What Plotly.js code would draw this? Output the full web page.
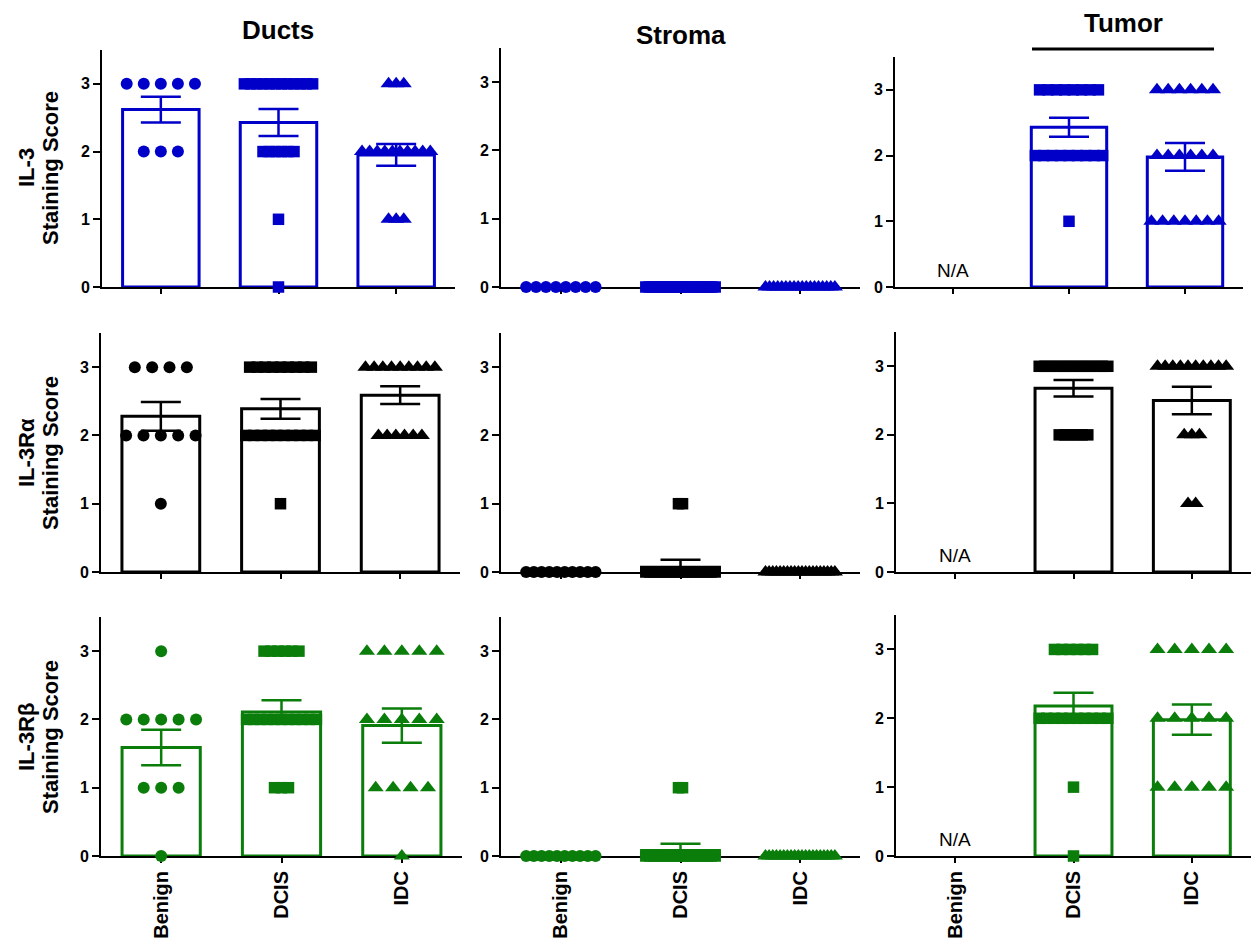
<!DOCTYPE html>
<html><head><meta charset="utf-8">
<script src="https://cdn.plot.ly/plotly-3.0.1.min.js"></script>
<style>html,body{margin:0;padding:0;background:#fff}#chart{width:1251px;height:945px}</style>
</head><body><div id="chart"></div>
<script>
// ---------- categories / labels ----------
const groups = ['Benign', 'DCIS', 'IDC'];
const regions = ['Ducts', 'Stroma', 'Tumor'];
const markerNames = ['IL-3', 'IL-3Rα', 'IL-3Rβ'];
const yTickVals = [0, 1, 2, 3];

// ---------- IL-3 (individual staining scores per group) ----------
const il3DuctsScores = [
  [3,3,3,3,3,2,2,2],
  [3,3,3,3,3,3,3,3,3,3,3,3,2,2,2,2,2,2,1,0],
  [3,3,3,2,2,2,2,2,2,2,2,2,2,1,1,1]
];
const il3StromaScores = [
  [0,0,0,0,0,0,0,0],
  [0,0,0,0,0,0,0,0,0,0,0,0,0,0,0,0,0,0,0,0,0,0],
  [0,0,0,0,0,0,0,0,0,0,0,0,0,0,0,0,0,0]
];
const il3TumorScores = [
  [],
  [3,3,3,3,3,3,3,3,2,2,2,2,2,2,2,2,2,1],
  [3,3,3,3,3,3,2,2,2,2,2,2,1,1,1,1,1,1,1]
];
const il3DuctsMean = [2.62, 2.43, 1.95];
const il3DuctsSem = [0.19, 0.20, 0.16];
const il3StromaMean = [0, 0, 0];
const il3StromaSem = [0, 0, 0];
const il3TumorMean = [null, 2.43, 1.98];
const il3TumorSem = [null, 0.145, 0.21];

// ---------- IL-3Rα ----------
const raDuctsScores = [
  [3,3,3,3,2,2,2,2,2,1],
  [3,3,3,3,3,3,3,3,3,2,2,2,2,2,2,2,2,2,2,1],
  [3,3,3,3,3,3,3,3,3,2,2,2,2,2,2]
];
const raStromaScores = [
  [0,0,0,0,0,0,0,0,0,0],
  [0,0,0,0,0,0,0,0,0,0,0,0,0,0,0,0,0,0,1,1],
  [0,0,0,0,0,0,0,0,0,0,0,0,0,0,0,0,0,0,0,0]
];
const raTumorScores = [
  [],
  [3,3,3,3,3,3,3,3,3,3,3,3,3,2,2,2,2,2,2],
  [3,3,3,3,3,3,3,3,3,3,2,2,2,1,1]
];
const raDuctsMean = [2.28, 2.39, 2.59];
const raDuctsSem = [0.21, 0.145, 0.13];
const raStromaMean = [0, 0.07, 0];
const raStromaSem = [0, 0.11, 0];
const raTumorMean = [null, 2.68, 2.50];
const raTumorSem = [null, 0.12, 0.20];

// ---------- IL-3Rβ ----------
const rbDuctsScores = [
  [3,2,2,2,2,2,1,1,1,0],
  [3,3,3,3,3,3,2,2,2,2,2,2,2,2,2,2,2,1,1,1],
  [3,3,3,3,3,2,2,2,2,2,1,1,1,1,0]
];
const rbStromaScores = [
  [0,0,0,0,0,0,0,0,0,0],
  [0,0,0,0,0,0,0,0,0,0,0,0,0,0,0,0,0,0,1,1],
  [0,0,0,0,0,0,0,0,0,0,0,0,0,0,0,0,0,0,0,0]
];
const rbTumorScores = [
  [],
  [3,3,3,3,3,3,2,2,2,2,2,2,2,2,2,2,1,0],
  [3,3,3,3,3,2,2,2,2,2,1,1,1,1,1]
];
const rbDuctsMean = [1.59, 2.11, 1.91];
const rbDuctsSem = [0.26, 0.17, 0.25];
const rbStromaMean = [0, 0.08, 0];
const rbStromaSem = [0, 0.10, 0];
const rbTumorMean = [null, 2.18, 1.98];
const rbTumorSem = [null, 0.19, 0.22];

// ---------- assembly ----------
const allScores = [
  [il3DuctsScores, il3StromaScores, il3TumorScores],
  [raDuctsScores, raStromaScores, raTumorScores],
  [rbDuctsScores, rbStromaScores, rbTumorScores]
];
const allMeans = [
  [il3DuctsMean, il3StromaMean, il3TumorMean],
  [raDuctsMean, raStromaMean, raTumorMean],
  [rbDuctsMean, rbStromaMean, rbTumorMean]
];
const allSems = [
  [il3DuctsSem, il3StromaSem, il3TumorSem],
  [raDuctsSem, raStromaSem, raTumorSem],
  [rbDuctsSem, rbStromaSem, rbTumorSem]
];

const W = 1251, H = 945;
const colors = ['#0000c8', '#000000', '#0a7d0a'];
const symbols = ['circle', 'square', 'triangle-up'];
const symSizes = [12, 11.5, 14];
const FONT = 'Liberation Sans, Arial, Helvetica, sans-serif';

// pixel geometry of each panel
const xDomPx = [
  [[102, 455], [501, 860], [895, 1243]],
  [[101, 460], [501, 860], [896, 1251]],
  [[101, 462], [501, 860], [896, 1251]]
];
const yTopPx = [[50, 48, 57], [333, 333, 332], [617, 617, 615]];
const yBotPx = [287, 572, 856];

// horizontal spreading of equal scores (scatter-dot layout)
function spread(vals, center) {
  const counts = {};
  vals.forEach(v => { counts[v] = (counts[v] || 0) + 1; });
  const maxC = Math.max(1, ...Object.values(counts));
  const step = maxC > 1 ? Math.min(0.15, 0.58 / (maxC - 1)) : 0;
  const seen = {};
  return vals.map(v => {
    const j = seen[v] = (seen[v] === undefined ? 0 : seen[v] + 1);
    return center + (j - (counts[v] - 1) / 2) * step;
  });
}

const traces = [];
const layout = {
  width: W, height: H,
  margin: {l: 0, r: 0, t: 0, b: 0},
  paper_bgcolor: '#ffffff', plot_bgcolor: 'rgba(0,0,0,0)',
  showlegend: false,
  font: {family: FONT, color: '#000'},
  annotations: [], shapes: []
};

for (let r = 0; r < 3; r++) {
  for (let c = 0; c < 3; c++) {
    const k = r * 3 + c + 1;
    const xa = k === 1 ? 'x' : 'x' + k;
    const ya = k === 1 ? 'y' : 'y' + k;
    const col = colors[r];
    traces.push({
      type: 'bar', x: [0, 1, 2], y: allMeans[r][c], width: 0.65,
      xaxis: xa, yaxis: ya, hoverinfo: 'skip',
      marker: {color: 'rgba(255,255,255,0)', line: {color: col, width: 3}},
      error_y: {type: 'data', array: allSems[r][c], visible: true, color: col, thickness: 2.5, width: 20}
    });
    for (let g = 0; g < 3; g++) {
      const vals = allScores[r][c][g];
      if (!vals.length) continue;
      traces.push({
        type: 'scatter', mode: 'markers', x: spread(vals, g), y: vals,
        xaxis: xa, yaxis: ya, cliponaxis: false, hoverinfo: 'skip',
        marker: {symbol: symbols[g], size: symSizes[g], color: col, line: {width: 0}}
      });
    }
    const xd = xDomPx[r][c];
    layout['xaxis' + (k === 1 ? '' : k)] = {
      domain: [xd[0] / W, Math.min(1, xd[1] / W)], anchor: ya,
      range: [-0.5, 2.5], showgrid: false, zeroline: false,
      showline: true, linecolor: '#000', linewidth: 2, layer: 'below traces',
      ticks: 'outside', ticklen: 5, tickwidth: 2, tickcolor: '#000',
      tickvals: [0, 1, 2], ticktext: groups,
      showticklabels: r === 2, tickangle: -90,
      tickfont: {family: FONT, size: 20, weight: 'bold', color: '#000'},
      fixedrange: true
    };
    layout['yaxis' + (k === 1 ? '' : k)] = {
      domain: [1 - yBotPx[r] / H, 1 - yTopPx[r][c] / H], anchor: xa,
      range: [0, 3.5], showgrid: false, zeroline: false,
      showline: true, linecolor: '#000', linewidth: 2, layer: 'below traces',
      ticks: 'outside', ticklen: 7, tickwidth: 2, tickcolor: '#000',
      tickvals: yTickVals,
      tickfont: {family: FONT, size: 16, weight: 'bold', color: '#000'},
      fixedrange: true
    };
    if (c === 2) {
      layout.annotations.push({
        xref: xa, yref: ya, x: 0, y: 0, xanchor: 'center', yanchor: 'bottom', yshift: 4,
        text: 'N/A', showarrow: false, font: {family: FONT, size: 19, color: '#000'}
      });
    }
  }
  // y-axis titles (two lines)
  const yc = [168, 453, 737][r];
  layout.annotations.push({
    xref: 'paper', yref: 'paper', x: 26 / W, y: 1 - yc / H, xanchor: 'center', yanchor: 'middle',
    text: markerNames[r], textangle: -90, showarrow: false,
    font: {family: FONT, size: 22, weight: 'bold', color: '#000'}
  });
  layout.annotations.push({
    xref: 'paper', yref: 'paper', x: 50 / W, y: 1 - yc / H, xanchor: 'center', yanchor: 'middle',
    text: 'Staining Score', textangle: -90, showarrow: false,
    font: {family: FONT, size: 22, weight: 'bold', color: '#000'}
  });
}

// column titles
const titleX = [278, 681, 1123];
const titleY = [30, 35, 23];
regions.forEach((t, i) => {
  layout.annotations.push({
    xref: 'paper', yref: 'paper', x: titleX[i] / W, y: 1 - titleY[i] / H,
    xanchor: 'center', yanchor: 'middle', text: t, showarrow: false,
    font: {family: FONT, size: 26, weight: 'bold', color: '#000'}
  });
});
// line under "Tumor"
layout.shapes.push({
  type: 'line', xref: 'paper', yref: 'paper',
  x0: 1032 / W, x1: 1214 / W, y0: 1 - 49 / H, y1: 1 - 49 / H,
  line: {color: '#000', width: 3}
});

Plotly.newPlot('chart', traces, layout, {staticPlot: true, displayModeBar: false});
</script>
</body></html>
